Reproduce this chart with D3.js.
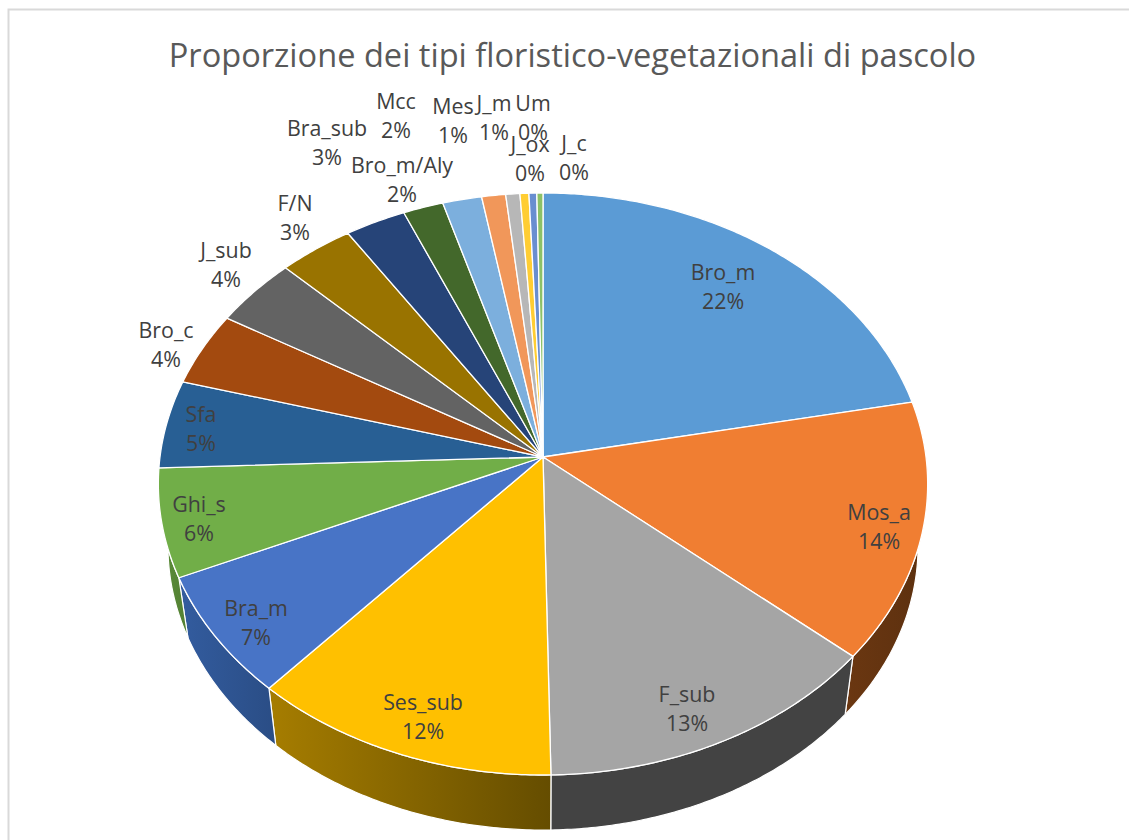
<!DOCTYPE html>
<html><head><meta charset="utf-8">
<script src="https://cdn.jsdelivr.net/npm/d3@7/dist/d3.min.js"></script>
<style>html,body{margin:0;padding:0;background:#fff}svg{display:block}text{font-family:"Open Sans",sans-serif}</style>
</head><body><div id="chart"></div>
<script>
const chartTitle = "Proporzione dei tipi floristico-vegetazionali di pascolo";
const categories = ["Bro_m","Mos_a","F_sub","Ses_sub","Bra_m","Ghi_s","Sfa","Bro_c","J_sub","F/N","Bra_sub","Bro_m/Aly","Mcc","Mes","J_m","Um","J_ox","J_c"];
const shares = [21.9,14.35,13.45,11.9,6.8,6.0,4.9,4.1,3.9,3.45,2.8,1.85,1.8,1.1,0.65,0.41,0.36,0.28];
const colors = ["#5B9BD5","#F07E32","#A5A5A5","#FFC000","#4874C6","#71AE48","#285F94","#A34A0F","#636363","#997300","#264478","#43682B","#7CAFDD","#F1975A","#B7B7B7","#FFCD33","#698ED0","#8CC168"];
const wallLeft  = ["#3d6f9f","#6b3711","#434343","#a67d00","#335c9f","#5d8f3a"];
const wallRight = ["#3d6f9f","#5c300f","#434343","#654d00","#2a4d85","#527f33"];
// label centres (layout only, midpoint between the two lines)
const labelCentres = [[723,287],[879,527],[687,709],[423,717],[256,623],[199,519],[201,429],[166,345],[226,265],[295,218],[327,143],[402,180],[396,116],[453,121],[494,118],[533,118],[530,159],[574,158]];

const W=1129,H=840, cx=543, cy=457, a=383, b=288.5, p=0.0928, lowScale=0.975, lowShift=63;
const svg=d3.select("#chart").append("svg").attr("width",W).attr("height",H);
const defs=svg.append("defs");
svg.append("rect").attr("width",W).attr("height",H).attr("fill","#fff");
svg.append("path").attr("d",`M8.5,${H}V9.5H${W}`).attr("fill","none").attr("stroke","#d9d9d9").attr("stroke-width",2);

function project(theta,r,low){
  const u=r*Math.sin(theta), v=-r*Math.cos(theta), k=1-p*v;
  let X=a*u/k, Y=b*v/k;
  if(low){X*=lowScale;Y=Y*lowScale+lowShift;}
  return [cx+X,cy+Y];
}
const line=d3.line();
const arcs=d3.pie().sort(null).value(d=>d)(shares);
const samples=(s,e)=>d3.range(0,1.0001,1/Math.max(2,Math.ceil((e-s)/0.01))).map(t=>s+(e-s)*t);

// side walls, front half only
const wallFrom=Math.PI*0.40, wallTo=Math.PI*1.56;
const walls=svg.append("g");
arcs.forEach((d,i)=>{
  const s=Math.max(d.startAngle,wallFrom), e=Math.min(d.endAngle,wallTo);
  if(e<=s||i>=wallLeft.length) return;
  const ts=samples(s,e);
  const top=ts.map(t=>project(t,1,false)), bot=ts.map(t=>project(t,1,true)).reverse();
  const xs=top.concat(bot).map(q=>q[0]);
  const id="wall"+i;
  const g=defs.append("linearGradient").attr("id",id).attr("gradientUnits","userSpaceOnUse")
    .attr("x1",d3.min(xs)).attr("x2",d3.max(xs)).attr("y1",0).attr("y2",0);
  g.append("stop").attr("offset",0).attr("stop-color",wallLeft[i]);
  g.append("stop").attr("offset",1).attr("stop-color",wallRight[i]);
  walls.append("path").attr("d",line(top.concat(bot))+"Z").attr("fill",`url(#${id})`)
    .attr("stroke","#fff").attr("stroke-width",1.2).attr("stroke-linejoin","round");
});
// top faces
const faces=svg.append("g");
arcs.forEach((d,i)=>{
  const pts=[[cx,cy]].concat(samples(d.startAngle,d.endAngle).map(t=>project(t,1,false)));
  faces.append("path").attr("d",line(pts)+"Z").attr("fill",colors[i])
    .attr("stroke","#fff").attr("stroke-width",1.3).attr("stroke-linejoin","round");
});
// title
svg.append("text").attr("x",572.5).attr("y",67).attr("text-anchor","middle")
  .attr("font-size",32.6).attr("fill","#595959").text(chartTitle);
// labels
const pct=d3.format(".0f");
const labels=svg.append("g").attr("fill","#404040").attr("font-size",21.4).attr("text-anchor","middle");
categories.forEach((c,i)=>{
  const [x,y]=labelCentres[i];
  labels.append("text").attr("x",x).attr("y",y-7).text(c);
  labels.append("text").attr("x",x).attr("y",y+22).text(pct(shares[i])+"%");
});
</script></body></html>
